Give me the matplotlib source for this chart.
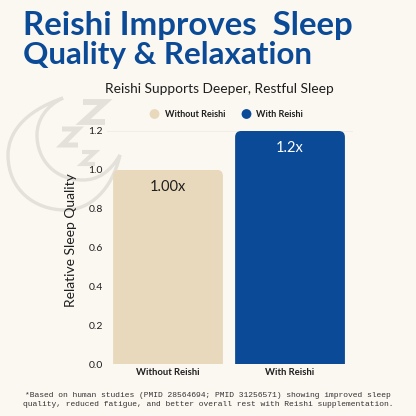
import matplotlib
matplotlib.use("Agg")
import matplotlib.pyplot as plt
from matplotlib.patches import FancyBboxPatch
from matplotlib.path import Path
from matplotlib.patches import PathPatch

# chart values
categories = ["Without Reishi", "With Reishi"]
values = [1.0, 1.2]
value_labels = ["1.00x", "1.2x"]
y_ticks = [0.0, 0.2, 0.4, 0.6, 0.8, 1.0, 1.2]

BG = "#fbf7f1"
BLUE = "#0b4a96"
BEIGE = "#e8d9bd"
INK = "#1f1f1f"
MOON = "#e4e1db"

plt.rcParams["font.family"] = ["Lato", "DejaVu Sans"]

W, H = 416, 416
fig = plt.figure(figsize=(W / 100, H / 100), dpi=100, facecolor=BG)


def px_axes(left, top, right, bottom):
    return [left / W, 1 - bottom / H, (right - left) / W, (bottom - top) / H]


# decorative moon and z's, drawn in pixel coordinates
deco = fig.add_axes([0, 0, 1, 1], zorder=0)
deco.set_xlim(0, W)
deco.set_ylim(H, 0)
deco.axis("off")
moon_path = Path(
    [(63, 98), (22, 112), (8, 135), (8, 155), (8, 190), (35, 210), (65, 210),
     (90, 210), (112, 190), (120, 155), (110, 172), (98, 180), (83, 180),
     (55, 180), (37, 160), (37, 135), (37, 120), (46, 106), (63, 98)],
    [Path.MOVETO] + [Path.CURVE4] * 18,
)
deco.add_patch(PathPatch(moon_path, fill=False, ec=MOON, lw=2.4))
for zx, zy, zw, zh, lw in [(83, 102, 22, 20, 4.2), (62, 129, 16, 16, 3.6), (82, 152, 13, 12, 3.0)]:
    deco.plot([zx, zx + zw, zx, zx + zw], [zy, zy, zy + zh, zy + zh],
              color=MOON, lw=lw, solid_joinstyle="miter", solid_capstyle="butt")

# main chart
ax = fig.add_axes(px_axes(107, 131, 352, 364), zorder=1)
ax.patch.set_alpha(0)
x = range(len(categories))
bars = ax.bar(x, values, width=0.9, color=[BEIGE, BLUE], zorder=2)
ax.set_xlim(-0.5, 1.508)
ax.set_ylim(0, 1.2)

# round the top corners of each bar, the clip box runs below zero so the feet stay square
for bar in bars:
    clip = FancyBboxPatch(
        (bar.get_x(), -0.2), bar.get_width(), bar.get_height() + 0.2,
        boxstyle="round,pad=0,rounding_size=0.05",
        mutation_aspect=0.63, transform=ax.transData, fc="none", ec="none",
    )
    ax.add_patch(clip)
    bar.set_clip_path(clip)

for xi, v, lab, col in zip(x, values, value_labels, [INK, "white"]):
    ax.text(xi, v - 0.09, lab, ha="center", va="center", fontsize=10.5, color=col, zorder=3)

for s in ax.spines.values():
    s.set_visible(False)
ax.axhline(1.2, color="#f1ece5", lw=0.6, zorder=1, clip_on=False)
ax.set_yticks(y_ticks)
ax.set_yticklabels([f"{t:.1f}" for t in y_ticks], fontsize=7.5, color=INK)
ax.set_xticks(list(x))
ax.set_xticklabels(categories, fontsize=6.8, fontweight="bold", color=INK)
ax.tick_params(length=0)
ax.tick_params(axis="x", pad=3)
ax.tick_params(axis="y", pad=3)
fig.text(71 / W, 1 - 240 / H, "Relative Sleep Quality", rotation=90, ha="center", va="center",
         fontsize=10, color=INK)

# titles and legend
fig.text(23 / W, 1 - 25 / H, "Reishi Improves  Sleep", fontsize=23.8, fontweight="bold", color=BLUE,
         ha="left", va="center")
fig.text(23 / W, 1 - 55 / H, "Quality & Relaxation", fontsize=22.6, fontweight="bold", color=BLUE,
         ha="left", va="center")
fig.text(219 / W, 1 - 89 / H, "Reishi Supports Deeper, Restful Sleep", fontsize=9.9, color=INK,
         ha="center", va="center")

deco.scatter([154.5, 246.5], [114, 114], s=50, color=[BEIGE, BLUE], linewidths=0)
fig.text(165 / W, 1 - 114.5 / H, categories[0], fontsize=6.5, fontweight="bold", color=INK, ha="left", va="center")
fig.text(256 / W, 1 - 114.5 / H, categories[1], fontsize=6.5, fontweight="bold", color=INK, ha="left", va="center")

# footnote
note = ("*Based on human studies (PMID 28564694; PMID 31256571) showing improved sleep\n"
        "quality, reduced fatigue, and better overall rest with Reishi supplementation.")
fig.text(208 / W, 1 - 400 / H, note, family=["Liberation Mono", "DejaVu Sans Mono"], fontsize=5.75,
         color="#333333", ha="center", va="center", linespacing=1.4)

fig.savefig("out.png", dpi=100, facecolor=BG)
